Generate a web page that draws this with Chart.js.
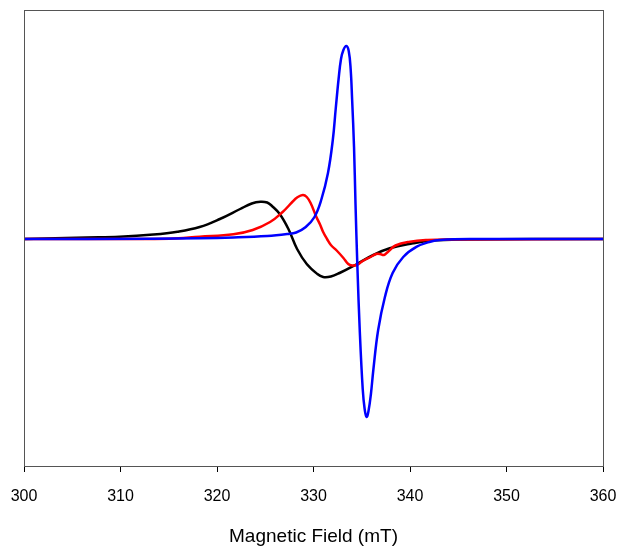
<!DOCTYPE html>
<html>
<head>
<meta charset="utf-8">
<script src="https://cdn.jsdelivr.net/npm/chart.js@4"></script>
<style>
  html, body { margin: 0; padding: 0; background: #fff; }
  #wrap { width: 618px; height: 546px; }
</style>
</head>
<body>
<div id="wrap"><canvas id="myChart" width="618" height="546"></canvas></div>
<script>
// x axis ticks (mT)
const fieldTicks = [300, 310, 320, 330, 340, 350, 360];

// black trace
const blackField = [300, 306.5, 309.9, 313.4, 315.9, 318.2, 320.3, 322.4, 323.6, 324.5, 325.2, 325.7, 326.5, 327.4,
    328.3, 329.3, 330.4, 331.0, 331.8, 332.7, 334.5, 336.2, 337.9, 340.3, 342.1, 345.2, 360];
const blackVal = [0, 1.5, 2.3, 4.5, 7.3, 12, 20, 30, 35.5, 37.3, 36.5, 33, 25, 10,
    -10, -25, -35, -38, -37.5, -34, -25, -16, -9.3, -4.3, -1.7, -0.5, 0];

// red trace
const redField = [300, 315.1, 318.2, 321.7, 323.7, 325.5, 326.8, 327.8, 328.3, 328.9, 329.3, 329.7, 330.3, 330.7,
    331.0, 331.4, 331.8, 332.4, 333.1, 333.6, 334.0, 334.5, 335.1, 335.9, 336.5, 336.9, 337.3, 337.7,
    338.5, 340.0, 341.8, 344.1, 360];
const redVal = [0, 0.3, 2.3, 4.7, 9, 17, 27, 37, 41.5, 44, 42, 36, 22, 14,
    7, 0, -6, -11.5, -19, -25, -26.5, -26, -22, -18, -15, -15, -16, -13,
    -6.5, -2.7, -1, -0.5, 0];

// blue trace
const blueField = [300, 313.1, 318.2, 321.7, 325.2, 327.3, 328.2, 329.2, 330.1, 330.8, 331.5, 332.0, 332.3, 332.6,
    332.85, 333.1, 333.4, 333.65, 333.85, 334.0, 334.2, 334.35, 334.55, 334.8, 335.1, 335.3, 335.5, 335.7, 335.95,
    336.2, 336.7, 337.4, 338.2, 339.3, 340.7, 342.1, 343.1, 346.2, 360];
const blueVal = [0, 0.3, 0.7, 1.5, 3, 5, 6.5, 12, 22, 39, 66, 99, 130, 160,
    180, 189, 193, 188, 170, 140, 92, 36, -28, -93, -150, -170, -178, -172, -155,
    -131, -91, -58, -34, -18, -7.7, -2.7, -1, 0, 0];

function pts(xs, ys) {
    return xs.map((x, i) => ({ x: x, y: ys[i] }));
}

const frame = {
    id: 'frame',
    afterDraw(chart) {
        const a = chart.chartArea;
        const c = chart.ctx;
        c.save();
        c.strokeStyle = '#555';
        c.lineWidth = 1;
        c.strokeRect(a.left + 0.5, a.top + 0.5, a.right - a.left, a.bottom - a.top);
        c.restore();
    }
};

const ctx = document.getElementById('myChart');
new Chart(ctx, {
    type: 'line',
    data: {
        datasets: [{
            label: 'blue',
            data: pts(blueField, blueVal),
            borderColor: '#0000ff',
            borderWidth: 2.5
        },
        {
            label: 'red',
            data: pts(redField, redVal),
            borderColor: '#ff0000',
            borderWidth: 2.5
        },
        {
            label: 'black',
            data: pts(blackField, blackVal),
            borderColor: '#000000',
            borderWidth: 2.5
        }]
    },
    options: {
        responsive: false,
        animation: false,
        layout: {
            padding: { left: 24, right: 15, top: 10, bottom: 0 }
        },
        elements: {
            point: { radius: 0 },
            line: { tension: 0.4, fill: false }
        },
        plugins: {
            legend: { display: false },
            tooltip: { enabled: false }
        },
        scales: {
            x: {
                type: 'linear',
                min: 300,
                max: 360,
                afterBuildTicks: axis => {
                    axis.ticks = fieldTicks.map(v => ({ value: v }));
                },
                afterFit: axis => {
                    axis.paddingLeft = 0;
                    axis.paddingRight = 0;
                    axis.height = 80;
                },
                grid: {
                    drawOnChartArea: false,
                    drawTicks: true,
                    tickLength: 6,
                    color: '#000'
                },
                border: { color: '#000', width: 1 },
                ticks: {
                    color: '#000',
                    padding: 15,
                    maxRotation: 0,
                    font: { family: 'Liberation Sans', size: 16 }
                },
                title: {
                    display: true,
                    text: 'Magnetic Field (mT)',
                    color: '#000',
                    padding: { top: 20, bottom: 0 },
                    font: { family: 'Liberation Sans', size: 19, lineHeight: 1 }
                }
            },
            y: {
                display: false,
                min: -227,
                max: 229
            }
        }
    },
    plugins: [frame]
});
</script>
</body>
</html>
